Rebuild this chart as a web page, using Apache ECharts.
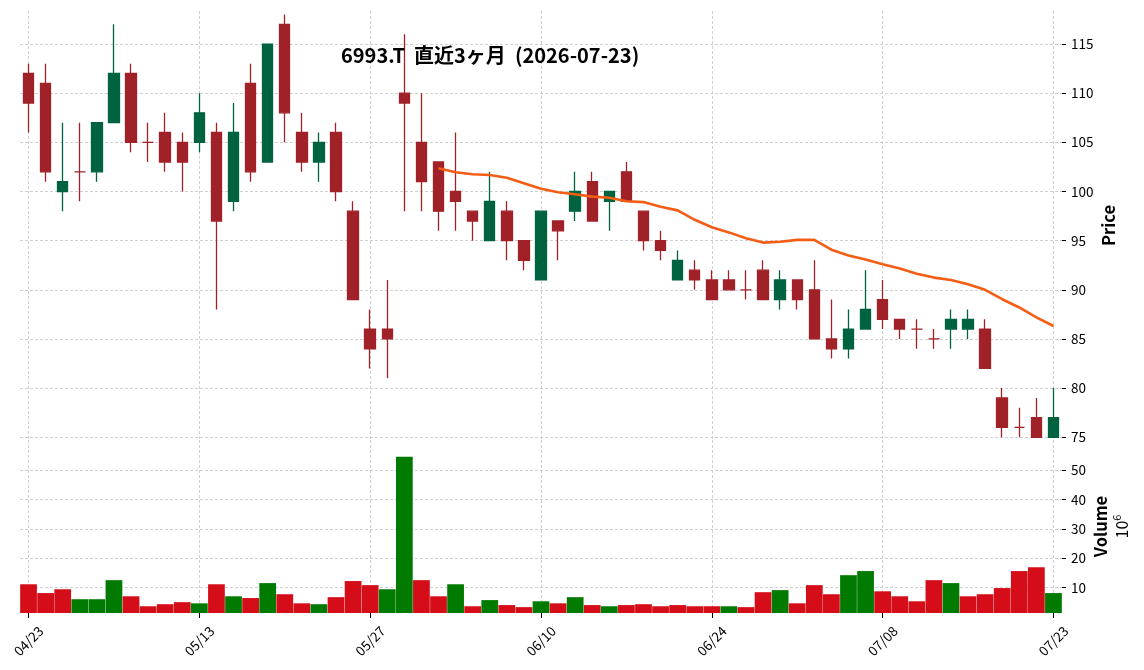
<!DOCTYPE html>
<html>
<head>
<meta charset="utf-8">
<script src="https://cdn.jsdelivr.net/npm/echarts@6/dist/echarts.min.js"></script>
<style>
  html, body { margin: 0; padding: 0; background: #ffffff; }
  #chart { width: 1144px; height: 670px; }
</style>
</head>
<body>
<div id="chart"></div>
<script>
const titleText = '6993.T  直近3ヶ月  (2026-07-23)';
const dates = ['04/23','04/24','04/27','04/28','04/30','05/01','05/07','05/08','05/11','05/12',
  '05/13','05/14','05/15','05/18','05/19','05/20','05/21','05/22','05/25','05/26',
  '05/27','05/28','05/29','06/01','06/02','06/03','06/04','06/05','06/08','06/09',
  '06/10','06/11','06/12','06/15','06/16','06/17','06/18','06/19','06/22','06/23',
  '06/24','06/25','06/26','06/29','06/30','07/01','07/02','07/03','07/06','07/07',
  '07/08','07/09','07/10','07/13','07/14','07/15','07/16','07/17','07/21','07/22',
  '07/23'];
const opens = [112,111,100,102,102,107,112,105,106,105,
  105,106,99,111,103,117,106,103,106,98,
  86,86,110,105,103,100,98,95,98,95,
  91,97,98,101,99,102,98,95,91,92,
  91,91,90,92,89,91,90,85,84,86,
  89,87,86,85,86,86,86,79,76,77,
  75];
const closes = [109,102,101,102,107,112,105,105,103,103,
  108,97,106,102,115,108,103,105,100,89,
  84,85,109,101,98,99,97,99,95,93,
  98,96,100,97,100,99,95,94,93,91,
  89,90,90,89,91,89,85,84,86,88,
  87,86,86,85,87,87,82,76,76,75,
  77];
const highs = [113,113,107,107,107,117,113,107,108,106,
  110,107,109,113,115,118,108,106,107,99,
  88,91,116,110,103,106,98,102,99,95,
  98,97,102,102,100,103,98,96,94,93,
  92,92,92,93,92,91,93,89,88,92,
  91,87,87,86,88,88,87,80,78,79,
  80];
const lows = [106,101,98,99,101,107,104,103,102,100,
  104,88,98,101,103,105,102,101,99,89,
  82,81,98,98,96,96,95,95,93,92,
  91,93,97,97,96,99,94,93,91,90,
  89,90,89,89,88,88,85,83,83,86,
  86,85,84,84,84,85,82,75,75,75,
  75];
// volume in millions of shares
const volumes = [11.1,8.1,9.4,6.0,6.0,12.5,7.0,3.6,4.3,5.0,
  4.6,11.1,7.0,6.4,11.5,7.7,4.6,4.3,6.7,12.2,
  10.8,9.4,54.6,12.5,7.0,11.1,3.6,5.7,4.0,3.3,
  5.3,4.6,6.7,4.0,3.6,4.0,4.3,3.6,4.0,3.6,
  3.6,3.6,3.3,8.4,9.1,4.6,10.8,7.7,14.2,15.6,
  8.7,7.0,5.3,12.5,11.5,7.0,7.7,9.8,15.6,16.9,
  8.1];
// 25-day moving average of close
const ma25 = [null,null,null,null,null,null,null,null,null,null,
  null,null,null,null,null,null,null,null,null,null,
  null,null,null,null,102.36,101.96,101.76,101.68,101.40,100.84,
  100.28,99.92,99.72,99.48,99.36,99.00,98.92,98.44,98.08,97.12,
  96.36,95.84,95.24,94.80,94.88,95.08,95.08,94.08,93.48,93.08,
  92.60,92.16,91.64,91.24,91.00,90.56,90.00,89.04,88.20,87.20,
  86.32];
const priceTicks = [75,80,85,90,95,100,105,110,115];
const volumeTicks = [10,20,30,40,50];
const dateTickIdx = [0,10,20,30,40,50,60];

const UP = '#006340', DOWN = '#a02128';
const VUP = '#007a00', VDOWN = '#d50d18';
const FONT = '"Noto Sans CJK JP", "Noto Sans", sans-serif';

const candleData = dates.map((d, i) => {
  const c = opens[i] < closes[i] ? UP : DOWN;
  return {
    value: [opens[i], closes[i], lows[i], highs[i]],
    itemStyle: { color: c, color0: c, borderColor: c, borderColor0: c, borderColorDoji: c }
  };
});
const volData = volumes.map((v, i) => {
  const up = i === 0 ? opens[0] < closes[0] : closes[i - 1] < closes[i];
  return { value: v, itemStyle: { color: up ? VUP : VDOWN } };
});

const gridLine = { show: true, lineStyle: { color: '#c4c4c4', type: [3, 2], width: 0.8 } };

function gridXAxis(gi) {
  return {
    type: 'value', gridIndex: gi, min: -0.5, max: dates.length - 0.5,
    axisLine: { show: false, onZero: false },
    axisTick: { show: false, customValues: dateTickIdx },
    axisLabel: { show: false, customValues: dateTickIdx },
    splitLine: gridLine
  };
}

const chart = echarts.init(document.getElementById('chart'), null, { renderer: 'canvas' });
chart.setOption({
  animation: false,
  backgroundColor: '#ffffff',
  title: {
    text: titleText,
    left: 336, top: 40,
    textStyle: { fontFamily: FONT, fontSize: 20, fontWeight: 'bold', color: '#000' }
  },
  grid: [
    { left: 20, right: 82, top: 11, height: 429 },
    { left: 20, right: 82, top: 440, height: 173 }
  ],
  xAxis: [
    {
      type: 'category', data: dates, gridIndex: 0, boundaryGap: true,
      axisLine: { show: false, onZero: false }, axisTick: { show: false }, axisLabel: { show: false },
      splitLine: { show: false }
    },
    {
      type: 'category', data: dates, gridIndex: 1, boundaryGap: true,
      axisLine: { show: false, onZero: false },
      axisTick: { show: true, interval: 9, alignWithLabel: true, length: 5, lineStyle: { color: '#000', width: 1 } },
      axisLabel: {
        interval: 9, rotate: 45, align: 'center', verticalAlign: 'middle', margin: 28,
        fontFamily: FONT, fontSize: 13.5, color: '#000'
      },
      splitLine: { show: false }
    },
    gridXAxis(0),
    gridXAxis(1)
  ],
  yAxis: [
    {
      type: 'value', gridIndex: 0, position: 'right', min: 74.72, max: 118.36,
      axisLine: { show: false, onZero: false },
      axisTick: { show: true, length: 4, customValues: priceTicks, lineStyle: { color: '#000', width: 1 } },
      axisLabel: { customValues: priceTicks, margin: 9, fontFamily: FONT, fontSize: 13.5, color: '#000' },
      splitLine: gridLine,
      name: 'Price', nameLocation: 'middle', nameRotate: 90, nameGap: 38, nameMoveOverlap: false,
      nameTextStyle: { fontFamily: FONT, fontSize: 16.5, fontWeight: 'bold', color: '#000' }
    },
    {
      type: 'value', gridIndex: 1, position: 'right', min: 1.3, max: 60.3,
      axisLine: { show: false, onZero: false },
      axisTick: { show: true, length: 4, customValues: volumeTicks, lineStyle: { color: '#000', width: 1 } },
      axisLabel: { customValues: volumeTicks, margin: 9, fontFamily: FONT, fontSize: 13.5, color: '#000' },
      splitLine: gridLine,
      name: '{v|Volume}\n{n|10}{s|6}', nameLocation: 'middle', nameRotate: 90, nameGap: 28, nameMoveOverlap: false,
      nameTextStyle: {
        fontFamily: FONT, color: '#000',
        rich: {
          v: { fontFamily: FONT, fontSize: 16.5, fontWeight: 'bold', color: '#000', lineHeight: 21 },
          n: { fontFamily: FONT, fontSize: 16, color: '#000', lineHeight: 21 },
          s: { fontFamily: FONT, fontSize: 11, color: '#000', lineHeight: 21, verticalAlign: 'top', padding: [0, 0, 6, 0] }
        }
      }
    }
  ],
  series: [
    {
      name: 'OHLC', type: 'candlestick', xAxisIndex: 0, yAxisIndex: 0,
      data: candleData, barWidth: '64%',
      itemStyle: { borderWidth: 1.3 }
    },
    {
      name: 'MA25', type: 'line', xAxisIndex: 0, yAxisIndex: 0,
      data: ma25, showSymbol: false, symbol: 'none', smooth: false,
      lineStyle: { color: '#f45d14', width: 2.6 }, z: 5
    },
    {
      name: 'Volume', type: 'bar', xAxisIndex: 1, yAxisIndex: 1,
      data: volData, barWidth: '98%'
    }
  ]
});
</script>
</body>
</html>
